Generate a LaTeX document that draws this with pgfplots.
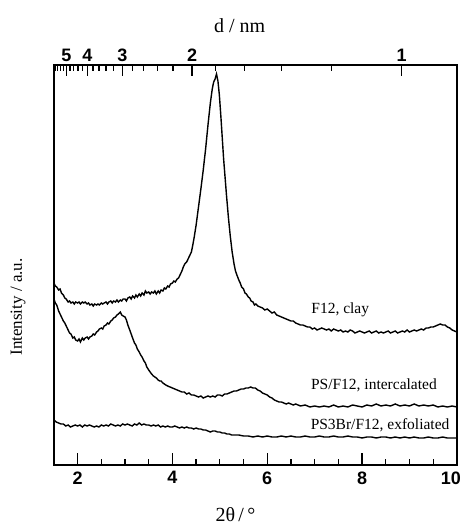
\documentclass[border=0pt]{standalone}
\usepackage{fontspec}
\setmainfont{Liberation Serif}
\newfontfamily\tickfont{Liberation Sans}
\usepackage{pgfplots}
\pgfplotsset{compat=1.18}
\begin{document}
\begin{tikzpicture}
\begin{axis}[
 name=main,
 scale only axis, width=403pt, height=400pt,
 xmin=1.5, xmax=10, ymin=0, ymax=400,
 axis line style={line width=1.6pt},
 xtick={2,4,6,8,10}, xticklabels={2,4,6,8,10\hspace*{12pt}},
 minor xtick={2.5,3,3.5,4.5,5,5.5,6.5,7,7.5,8.5,9,9.5},
 xtick pos=bottom, ytick=\empty,
 tick align=inside,
 major tick length=12pt, minor tick length=6pt,
 tick style={line width=1.3pt, black},
 xticklabel style={font=\fontsize{18}{21}\selectfont\tickfont\bfseries, yshift=-3pt},
 clip=false,
]
\addplot[black, line width=1.4pt] coordinates {
(1.50,182)(1.53,179)(1.56,178)(1.60,175)(1.63,176)(1.66,172)(1.70,170)(1.73,167)(1.76,166)(1.80,163)(1.83,164)(1.86,162)(1.90,163)(1.93,161)(1.96,163)(2.00,162)(2.03,163)(2.06,161)(2.10,163)(2.13,162)(2.16,163)(2.20,161)(2.23,162)(2.26,160)(2.30,161)(2.33,159)(2.36,161)(2.40,160)(2.43,161)(2.46,160)(2.50,162)(2.53,161)(2.56,162)(2.60,163)(2.63,161)(2.66,163)(2.70,164)(2.73,162)(2.76,164)(2.80,163)(2.83,165)(2.86,163)(2.90,165)(2.93,164)(2.96,166)(3.00,166)(3.03,164)(3.06,167)(3.10,168)(3.13,166)(3.16,169)(3.20,167)(3.23,170)(3.26,168)(3.30,171)(3.33,169)(3.36,172)(3.40,170)(3.43,174)(3.46,172)(3.50,173)(3.53,171)(3.56,173)(3.60,172)(3.63,174)(3.66,171)(3.70,174)(3.73,172)(3.76,175)(3.80,174)(3.83,177)(3.86,176)(3.90,179)(3.93,178)(3.96,181)(4.00,182)(4.03,184)(4.06,183)(4.10,186)(4.13,187)(4.16,190)(4.20,194)(4.23,198)(4.26,201)(4.30,203)(4.33,206)(4.36,209)(4.40,213)(4.43,220)(4.46,228)(4.50,240)(4.55,258)(4.60,276)(4.65,295)(4.70,316)(4.75,340)(4.80,362)(4.84,376)(4.87,383)(4.90,386)(4.93,391)(4.96,384)(4.99,370)(5.02,350)(5.05,328)(5.08,306)(5.11,288)(5.14,270)(5.18,248)(5.22,229)(5.26,213)(5.30,201)(5.33,194)(5.36,190)(5.40,185)(5.43,182)(5.46,178)(5.50,176)(5.53,172)(5.56,171)(5.60,168)(5.63,167)(5.66,164)(5.70,163)(5.73,160)(5.76,161)(5.80,159)(5.85,158)(5.90,157)(5.95,155)(6.00,156)(6.05,154)(6.10,152)(6.15,153)(6.20,150)(6.25,149)(6.30,148)(6.35,147)(6.40,146)(6.45,145)(6.50,144)(6.55,144)(6.60,142)(6.65,141)(6.70,140)(6.75,140)(6.80,139)(6.85,138)(6.90,138)(6.95,136)(7.00,137)(7.05,135)(7.10,136)(7.15,137)(7.20,136)(7.25,135)(7.30,136)(7.35,134)(7.40,136)(7.45,135)(7.50,134)(7.55,135)(7.60,133)(7.65,134)(7.70,133)(7.75,135)(7.80,134)(7.85,132)(7.90,133)(7.95,134)(8.00,133)(8.05,132)(8.10,133)(8.15,134)(8.20,132)(8.25,133)(8.30,134)(8.35,132)(8.40,133)(8.45,132)(8.50,133)(8.55,134)(8.60,132)(8.65,133)(8.70,134)(8.75,132)(8.80,133)(8.85,134)(8.90,133)(8.95,135)(9.00,133)(9.05,134)(9.10,135)(9.15,134)(9.20,135)(9.25,136)(9.30,135)(9.35,137)(9.40,137)(9.45,138)(9.50,138)(9.55,139)(9.60,140)(9.65,141)(9.70,140)(9.75,140)(9.80,138)(9.85,137)(9.90,135)(9.95,134)(10.0,133)
};
\addplot[black, line width=1.4pt] coordinates {
(1.50,166)(1.53,162)(1.56,160)(1.60,154)(1.63,151)(1.66,148)(1.70,144)(1.73,142)(1.76,139)(1.80,135)(1.83,132)(1.86,131)(1.90,127)(1.93,128)(1.96,125)(2.00,124)(2.03,126)(2.06,123)(2.10,127)(2.13,125)(2.16,127)(2.20,128)(2.23,126)(2.26,128)(2.30,129)(2.33,131)(2.36,130)(2.40,133)(2.43,134)(2.46,136)(2.50,137)(2.53,136)(2.56,139)(2.60,140)(2.63,142)(2.66,141)(2.70,144)(2.73,145)(2.76,147)(2.80,148)(2.83,150)(2.86,151)(2.90,153)(2.93,150)(2.96,149)(3.00,148)(3.03,145)(3.06,140)(3.10,135)(3.13,131)(3.16,127)(3.20,122)(3.23,120)(3.26,116)(3.30,113)(3.33,110)(3.36,108)(3.40,104)(3.43,102)(3.46,98)(3.50,95)(3.53,93)(3.56,91)(3.60,89)(3.63,88)(3.66,87)(3.70,85)(3.73,84)(3.76,84)(3.80,82)(3.83,81)(3.86,80)(3.90,79)(3.95,78)(4.00,77)(4.05,76)(4.10,75)(4.15,74)(4.20,73)(4.25,73)(4.30,71)(4.35,72)(4.40,70)(4.45,70)(4.50,69)(4.55,68)(4.60,69)(4.65,67)(4.70,68)(4.75,69)(4.80,68)(4.85,69)(4.90,68)(4.95,70)(5.00,70)(5.05,69)(5.10,71)(5.15,71)(5.20,72)(5.25,73)(5.30,74)(5.35,74)(5.40,75)(5.45,76)(5.50,76)(5.55,77)(5.60,77)(5.65,78)(5.70,77)(5.75,77)(5.80,75)(5.85,74)(5.90,72)(5.95,71)(6.00,70)(6.05,68)(6.10,67)(6.15,65)(6.20,64)(6.25,63)(6.30,63)(6.35,62)(6.40,61)(6.45,62)(6.50,61)(6.55,60)(6.60,61)(6.70,59)(6.80,60)(6.90,58)(7.00,59)(7.10,58)(7.20,59)(7.30,58)(7.40,60)(7.50,58)(7.60,59)(7.70,58)(7.80,60)(7.90,59)(8.00,58)(8.10,60)(8.20,59)(8.30,61)(8.40,59)(8.50,60)(8.60,59)(8.70,61)(8.80,59)(8.90,60)(9.00,59)(9.10,61)(9.20,59)(9.30,60)(9.40,59)(9.50,60)(9.60,58)(9.70,59)(9.80,58)(9.90,59)(10.0,58)
};
\addplot[black, line width=1.4pt] coordinates {
(1.50,45)(1.55,43)(1.60,42)(1.65,41)(1.70,41)(1.75,39)(1.80,40)(1.85,38)(1.90,39)(1.95,40)(2.00,39)(2.05,40)(2.10,38)(2.15,40)(2.20,39)(2.25,40)(2.30,39)(2.35,38)(2.40,39)(2.45,38)(2.50,40)(2.55,39)(2.60,40)(2.65,39)(2.70,41)(2.75,40)(2.80,39)(2.85,40)(2.90,39)(2.95,41)(3.00,40)(3.05,41)(3.10,40)(3.15,39)(3.20,41)(3.25,40)(3.30,42)(3.35,40)(3.40,41)(3.45,40)(3.50,40)(3.55,39)(3.60,40)(3.65,39)(3.70,40)(3.75,38)(3.80,39)(3.85,38)(3.90,39)(3.95,38)(4.00,38)(4.05,39)(4.10,38)(4.15,37)(4.20,38)(4.25,37)(4.30,38)(4.35,37)(4.40,37)(4.45,36)(4.50,37)(4.55,36)(4.60,36)(4.65,35)(4.70,35)(4.75,34)(4.80,33)(4.85,34)(4.90,34)(4.95,33)(5.00,33)(5.05,32)(5.10,32)(5.15,31)(5.20,31)(5.25,30)(5.30,30)(5.40,30)(5.50,29)(5.60,29)(5.70,28)(5.80,29)(5.90,28)(6.00,29)(6.10,28)(6.20,28)(6.30,29)(6.40,28)(6.50,29)(6.60,28)(6.70,28)(6.80,29)(6.90,28)(7.00,28)(7.10,29)(7.20,28)(7.30,28)(7.40,29)(7.50,28)(7.60,28)(7.70,29)(7.80,28)(7.90,28)(8.00,27)(8.10,28)(8.20,28)(8.30,27)(8.40,28)(8.50,28)(8.60,27)(8.70,28)(8.80,27)(8.90,28)(9.00,27)(9.10,28)(9.20,27)(9.30,27)(9.40,28)(9.50,27)(9.60,27)(9.70,28)(9.80,27)(9.90,27)(10.0,27)
};
\node[font=\fontsize{15.5}{18}\selectfont] at (axis cs:7.54,155) {F12, clay};
\node[font=\fontsize{15.5}{18}\selectfont] at (axis cs:8.25,80) {PS/F12, intercalated};
\node[font=\fontsize{15.5}{18}\selectfont] at (axis cs:8.38,40) {PS3Br/F12, exfoliated};
\node[font=\fontsize{20}{23}\selectfont] at (axis cs:5.33,-50) {2θ\,/\,°};
\node[font=\fontsize{17}{20}\selectfont, rotate=90] at (axis cs:0.742,158) {Intensity / a.u.};
\node[font=\fontsize{20}{23}\selectfont] at (axis cs:5.42,439) {d / nm};
\coordinate (bbl) at (axis cs:0.3632,-63);
\coordinate (btr) at (axis cs:10.1105,465);
\end{axis}
\begin{axis}[
 scale only axis, width=403pt, height=400pt,
 xmin=1.5, xmax=10, ymin=0, ymax=400,
 axis line style={draw=none},
 xtick={1.7654,2.2068,2.9426,4.4146,8.8356}, xticklabels={5,4,3,2,1},
 minor xtick={1.5219,1.5763,1.6346,1.6975,1.839,1.919,2.0063,2.1018,2.3233,2.4523,2.5965,2.7588,3.153,3.3956,3.6786,4.0132,4.9054,5.519,6.308,7.3608},
 xtick pos=top, xticklabel pos=top, ytick=\empty,
 tick align=inside,
 major tick length=11pt, minor tick length=6pt,
 tick style={line width=1.3pt, black},
 xticklabel style={font=\fontsize{18}{21}\selectfont\tickfont\bfseries},
]
\addplot[draw=none] coordinates {(2,0)};
\end{axis}
\pgfresetboundingbox
\path[use as bounding box] (bbl) rectangle (btr);
\end{tikzpicture}
\end{document}
